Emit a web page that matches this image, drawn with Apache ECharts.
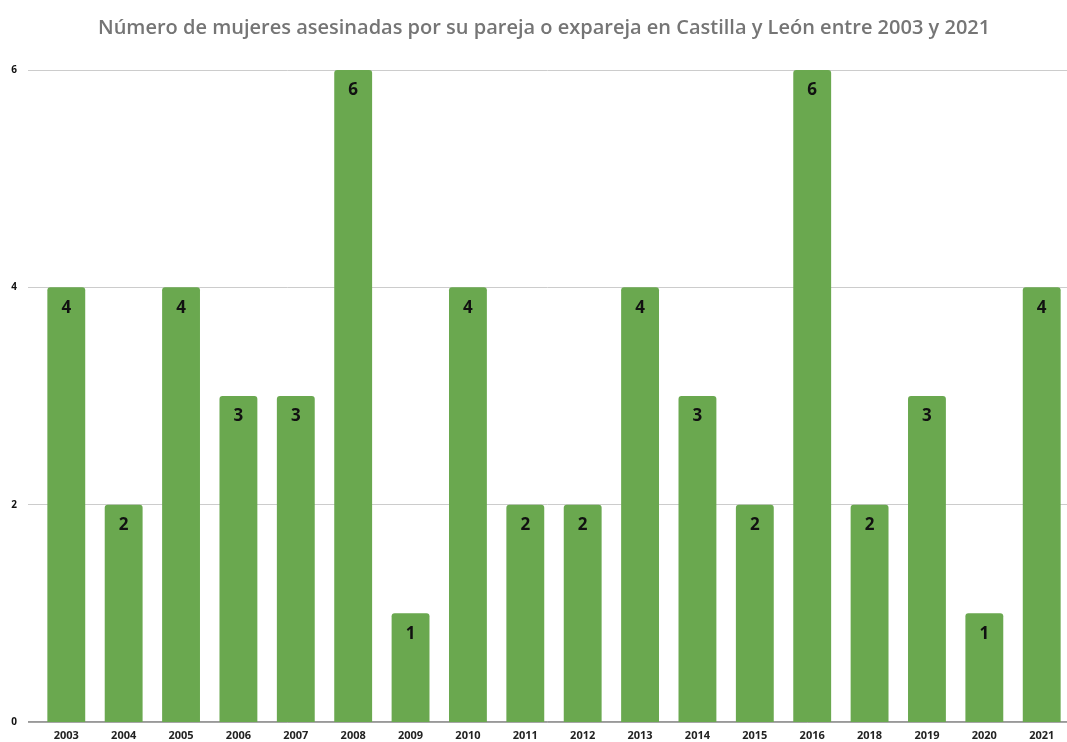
<!DOCTYPE html>
<html>
<head>
<meta charset="utf-8">
<script src="https://cdn.jsdelivr.net/npm/echarts@6/dist/echarts.min.js"></script>
<style>
  html, body { margin: 0; padding: 0; background: #fff; }
  #main { width: 1067px; height: 742px; }
</style>
</head>
<body>
<div id="main"></div>
<script>
// datos: mujeres asesinadas por su pareja o expareja (CyL)
var years = ['2003', '2004', '2005', '2006', '2007', '2008', '2009', '2010', '2011',
             '2012', '2013', '2014', '2015', '2016', '2018', '2019', '2020', '2021'];
var victims = [4, 2, 4, 3, 3, 6, 1, 4, 2, 2, 4, 3, 2, 6, 2, 3, 1, 4];
var yTicks = [0, 2, 4, 6];

var chart = echarts.init(document.getElementById('main'));

var option = {
    backgroundColor: '#ffffff',
    animation: false,
    title: {
        text: 'Número de mujeres asesinadas por su pareja o expareja en Castilla y León entre 2003 y 2021',
        left: 93,
        top: 13,
        textStyle: {
            fontFamily: 'Open Sans',
            fontSize: 20,
            fontWeight: 600,
            color: '#757575'
        }
    },
    // grid 0: lineas de fondo, grid 1: barras
    grid: [
        { left: 28, right: 0, top: 70, bottom: 20, outerBoundsMode: 'none' },
        { left: 37.6, right: -3.4, top: 70, bottom: 20, outerBoundsMode: 'none' }
    ],
    xAxis: [
        { type: 'value', gridIndex: 0, show: false, min: 0, max: 1 },
        {
            type: 'category',
            gridIndex: 1,
            data: years,
            axisLine: { show: false },
            axisTick: { show: false },
            axisLabel: {
                margin: 8,
                fontFamily: 'Open Sans',
                fontSize: 11,
                fontWeight: 'bold',
                color: '#222'
            }
        }
    ],
    yAxis: [
        {
            type: 'value',
            gridIndex: 0,
            min: 0,
            max: 6,
            interval: 2,
            axisLine: { show: false },
            axisTick: { show: false },
            axisLabel: {
                margin: 11,
                fontFamily: 'Open Sans',
                fontSize: 10,
                fontWeight: 'bold',
                color: '#111',
                formatter: function (v) { return yTicks.indexOf(v) >= 0 ? String(v) : ''; }
            },
            splitLine: { lineStyle: { color: '#cccccc', width: 1 } }
        },
        { type: 'value', gridIndex: 1, min: 0, max: 6, interval: 2, show: false }
    ],
    series: [
        {
            // linea base en cero
            type: 'line',
            xAxisIndex: 0,
            yAxisIndex: 0,
            data: [[0, 0], [1, 0]],
            symbol: 'none',
            silent: true,
            lineStyle: { color: '#333333', width: 1 },
            z: 1
        },
        {
            type: 'bar',
            xAxisIndex: 1,
            yAxisIndex: 1,
            data: victims,
            barCategoryGap: '34%',
            itemStyle: { color: '#6aa84f', borderRadius: [3, 3, 0, 0] },
            label: {
                show: true,
                position: 'insideTop',
                distance: 12,
                fontFamily: 'Open Sans',
                fontSize: 17,
                fontWeight: 'bold',
                color: '#111'
            },
            z: 2
        }
    ]
};

chart.setOption(option);
</script>
</body>
</html>
